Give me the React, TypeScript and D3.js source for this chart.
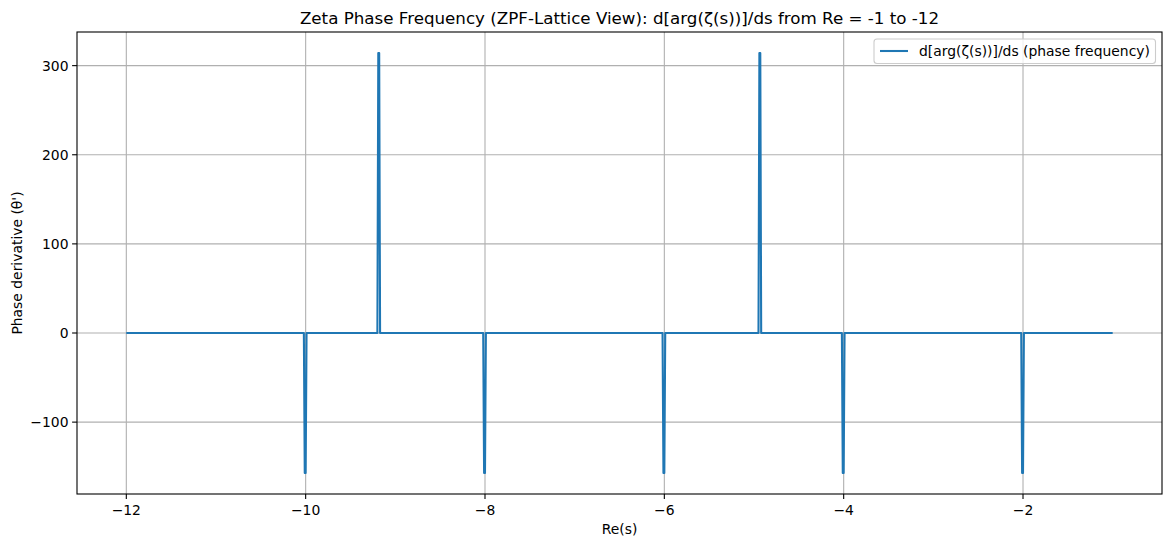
import React from 'react';
import * as d3 from 'd3';

// key points of the sampled curve (step 0.01), zero everywhere except the spikes
const reS = [
	-12, -10.02, -10.01, -10.0, -9.99,
	-9.2, -9.19, -9.18, -9.17,
	-8.02, -8.01, -8.0, -7.99,
	-6.02, -6.01, -6.0, -5.99,
	-4.95, -4.94, -4.93, -4.92,
	-4.02, -4.01, -4.0, -3.99,
	-2.02, -2.01, -2.0, -1.99,
	-1,
];
const phaseDeriv = [
	0, 0, -157.08, -157.08, 0,
	0, 314.16, 314.16, 0,
	0, -157.08, -157.08, 0,
	0, -157.08, -157.08, 0,
	0, 314.16, 314.16, 0,
	0, -157.08, -157.08, 0,
	0, -157.08, -157.08, 0,
	0,
];
const xTicks = [-12, -10, -8, -6, -4, -2];
const yTicks = [-100, 0, 100, 200, 300];

const W = 1172;
const H = 547;
const margin = { top: 32, right: 10, bottom: 53, left: 77 };
const font = 'DejaVu Sans, sans-serif';
const fmt = (v: number) => (v < 0 ? '\u2212' + Math.abs(v) : String(v));

export default function App() {
	const x = d3
		.scaleLinear()
		.domain([-12.55, -0.45])
		.range([margin.left, W - margin.right]);
	const y = d3
		.scaleLinear()
		.domain([-180.65, 337.74])
		.range([H - margin.bottom, margin.top]);

	const pts: [number, number][] = reS.map((s, i) => [s, phaseDeriv[i]]);
	const line = d3
		.line<[number, number]>()
		.x((d) => x(d[0]))
		.y((d) => y(d[1]));

	const x0 = margin.left;
	const x1 = W - margin.right;
	const y0 = margin.top;
	const y1 = H - margin.bottom;

	return (
		<svg
			width={W}
			height={H}
			style={{ position: 'absolute', left: 0, top: 0, background: '#fff' }}
			fontFamily={font}
		>
			{/* grid */}
			{xTicks.map((t) => (
				<line key={'gx' + t} x1={x(t)} x2={x(t)} y1={y0} y2={y1} stroke="#b0b0b0" strokeWidth={1.1} />
			))}
			{yTicks.map((t) => (
				<line key={'gy' + t} x1={x0} x2={x1} y1={y(t)} y2={y(t)} stroke="#b0b0b0" strokeWidth={1.1} />
			))}

			<path d={line(pts) ?? ''} fill="none" stroke="#1f77b4" strokeWidth={2.08} strokeLinejoin="round" />

			{/* spines */}
			<rect x={x0} y={y0} width={x1 - x0} height={y1 - y0} fill="none" stroke="#000" strokeWidth={1.1} />

			{/* x ticks */}
			{xTicks.map((t) => (
				<g key={'tx' + t}>
					<line x1={x(t)} x2={x(t)} y1={y1} y2={y1 + 4.9} stroke="#000" strokeWidth={1.1} />
					<text x={x(t)} y={y1 + 20.5} textAnchor="middle" fontSize={13.9} fill="#000">
						{fmt(t)}
					</text>
				</g>
			))}
			{/* y ticks */}
			{yTicks.map((t) => (
				<g key={'ty' + t}>
					<line x1={x0 - 4.9} x2={x0} y1={y(t)} y2={y(t)} stroke="#000" strokeWidth={1.1} />
					<text x={x0 - 8.5} y={y(t) + 5} textAnchor="end" fontSize={13.9} fill="#000">
						{fmt(t)}
					</text>
				</g>
			))}

			<text x={(x0 + x1) / 2} y={534} textAnchor="middle" fontSize={13.9} fill="#000">
				Re(s)
			</text>
			<text
				transform={`translate(22,${(y0 + y1) / 2}) rotate(-90)`}
				textAnchor="middle"
				fontSize={13.9}
				fill="#000"
			>
				Phase derivative (θ')
			</text>
			<text x={(x0 + x1) / 2} y={24} textAnchor="middle" fontSize={16.7} fill="#000">
				Zeta Phase Frequency (ZPF-Lattice View): d[arg(ζ(s))]/ds from Re = -1 to -12
			</text>

			{/* legend */}
			<g>
				<rect x={874} y={39} width={281.5} height={24.5} rx={3} fill="#fff" fillOpacity={0.8} stroke="#cccccc" strokeWidth={1.1} />
				<line x1={880} x2={908} y1={51} y2={51} stroke="#1f77b4" strokeWidth={2.08} />
				<text x={919} y={56} fontSize={13.9} fill="#000">
					d[arg(ζ(s))]/ds (phase frequency)
				</text>
			</g>
		</svg>
	);
}
